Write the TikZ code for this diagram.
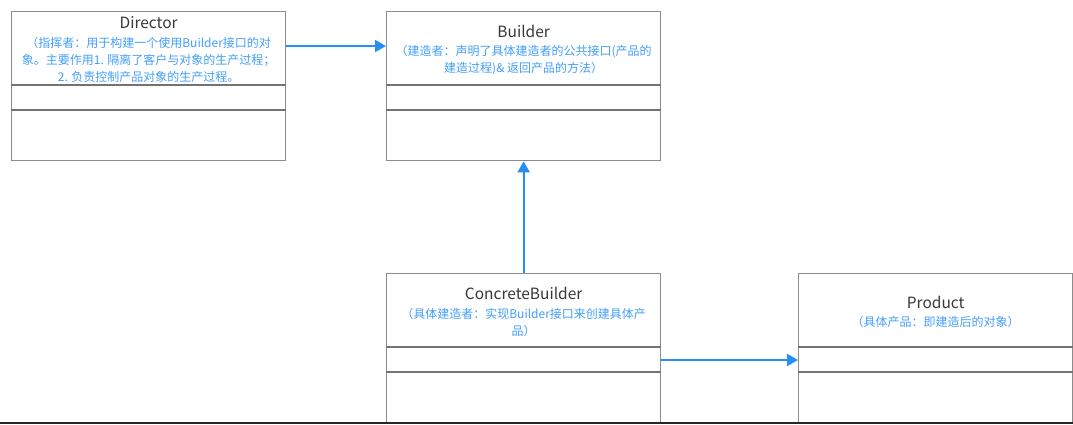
\documentclass[tikz,border=0pt]{standalone}
\usepackage{fontspec}
\setmainfont{Noto Sans CJK SC}
\usetikzlibrary{calc,arrows.meta,positioning}
\definecolor{umlFrame}{RGB}{140,140,140}
\definecolor{umlRule}{RGB}{115,115,115}
\definecolor{umlText}{RGB}{55,55,55}
\definecolor{linkBlue}{RGB}{38,142,245}
\definecolor{noteBlue}{RGB}{66,158,250}
\tikzset{
  classBox/.style={draw=umlFrame,line width=1.3pt,anchor=north west,
    minimum width=274pt,minimum height=149pt,inner sep=0pt},
  classTitle/.style={text=umlText,font=\fontsize{15.5}{18}\selectfont,anchor=base,inner sep=0pt},
  classNote/.style={text=noteBlue,font=\fontsize{12}{17}\selectfont,align=center,inner sep=0pt},
  classRule/.style={draw=umlRule,line width=2pt},
  linkArrow/.style={draw=linkBlue,line width=2pt,-{Triangle[length=11pt,width=12pt]}}
}

\begin{document}
\begin{tikzpicture}[x=1pt,y=-1pt]
  \useasboundingbox (0,0) rectangle (1073,424);
  % Director
  \node[classBox] (director) at (11,11) {};
  \node[classTitle] (directorName) at ($(director.north)+(0,17)$) {Director};
  \node[classNote] (directorNote) at ($(director.north)+(0,49)$)
    {（指挥者：用于构建一个使用Builder接口的对\\象。主要作用1. 隔离了客户与对象的生产过程；\\2. 负责控制产品对象的生产过程。};
  \draw[classRule] ($(director.north west)+(0,74)$) -- ($(director.north east)+(0,74)$);
  \draw[classRule] ($(director.north west)+(0,99)$) -- ($(director.north east)+(0,99)$);
  % Builder
  \node[classBox] (builder) at (386,11) {};
  \node[classTitle] (builderName) at ($(builder.north)+(0,26)$) {Builder};
  \node[classNote] (builderNote) at ($(builder.north)+(0,49.5)$)
    {（建造者：声明了具体建造者的公共接口(产品的\\建造过程)\& 返回产品的方法）};
  \draw[classRule] ($(builder.north west)+(0,74)$) -- ($(builder.north east)+(0,74)$);
  \draw[classRule] ($(builder.north west)+(0,99)$) -- ($(builder.north east)+(0,99)$);
  % ConcreteBuilder
  \node[classBox] (concrete) at (386,273) {};
  \node[classTitle] (concreteName) at ($(concrete.north)+(0,26)$) {ConcreteBuilder};
  \node[classNote] (concreteNote) at ($(concrete.north)+(0,49)$)
    {（具体建造者：实现Builder接口来创建具体产\\品）};
  \draw[classRule] ($(concrete.north west)+(0,74)$) -- ($(concrete.north east)+(0,74)$);
  \draw[classRule] ($(concrete.north west)+(0,99)$) -- ($(concrete.north east)+(0,99)$);
  % Product
  \node[classBox] (product) at (798,273) {};
  \node[classTitle] (productName) at ($(product.north)+(0,35)$) {Product};
  \node[classNote] (productNote) at ($(product.north)+(0,49)$)
    {（具体产品：即建造后的对象）};
  \draw[classRule] ($(product.north west)+(0,74)$) -- ($(product.north east)+(0,74)$);
  \draw[classRule] ($(product.north west)+(0,99)$) -- ($(product.north east)+(0,99)$);
  % liens
  \draw[linkArrow] ($(director.north east)+(0,35)$) -- ($(builder.north west)+(0,35)$);
  \draw[linkArrow] (concrete.north) -- (builder.south);
  \draw[linkArrow] ($(concrete.north east)+(0,87)$) -- ($(product.north west)+(0,87)$);
  % bord bas
  \draw[black!85,line width=2.5pt] (0,423) -- (1073,423);
\end{tikzpicture}
\end{document}
